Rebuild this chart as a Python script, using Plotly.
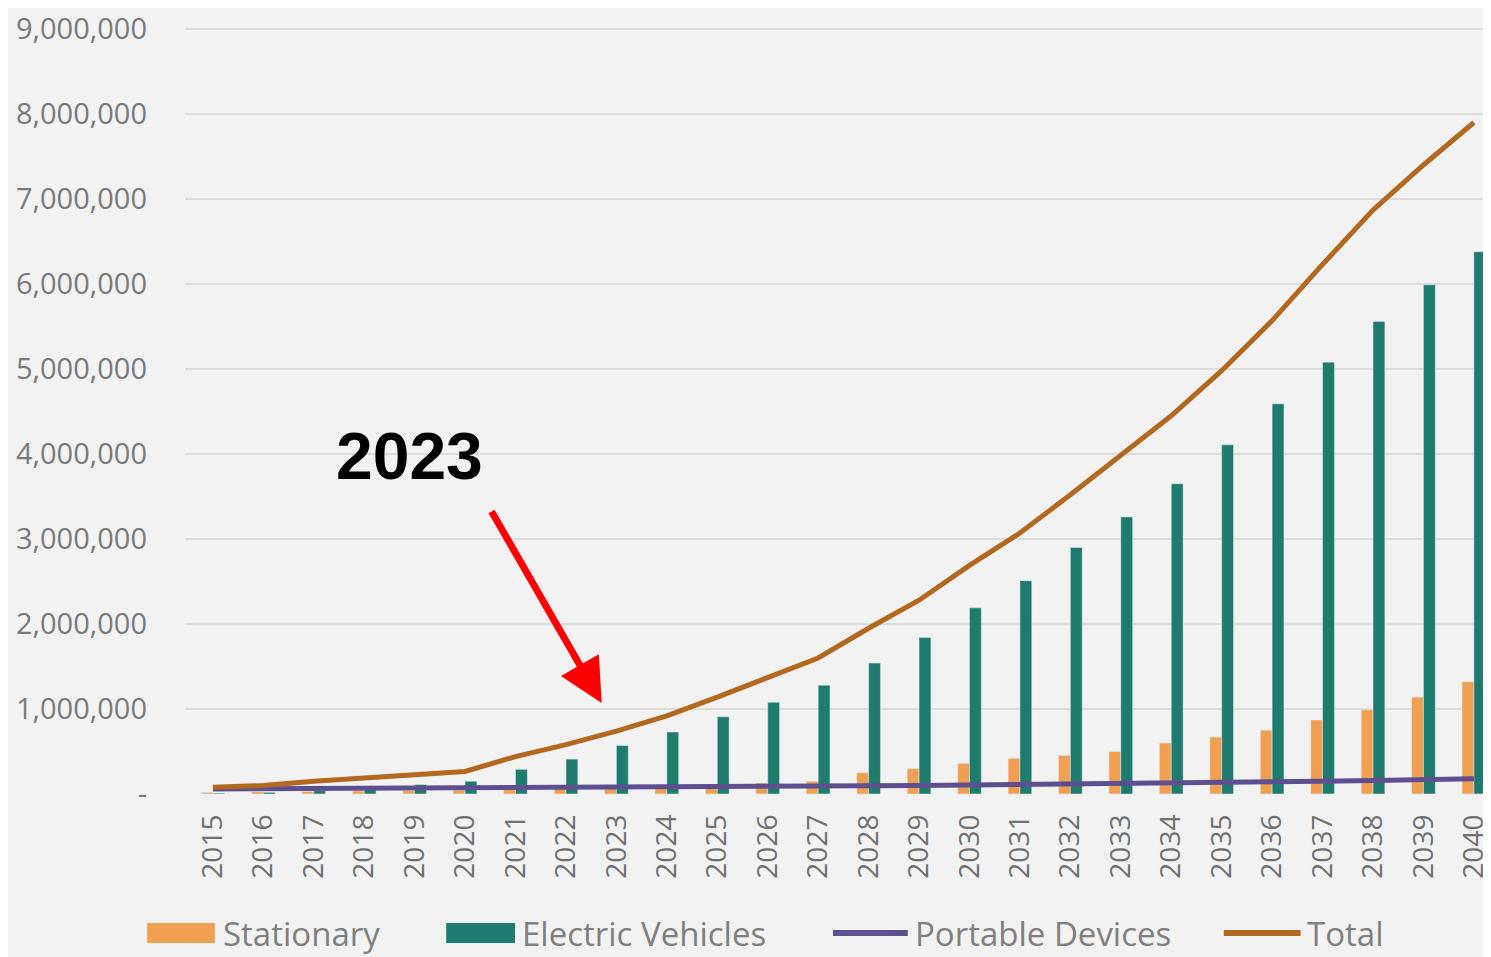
import plotly.graph_objects as go

years = [str(y) for y in range(2015, 2041)]

stationary = [20000, 25000, 30000, 35000, 40000, 45000, 55000, 65000, 80000, 95000,
              110000, 130000, 150000, 250000, 300000, 360000, 420000, 455000, 500000, 600000,
              670000, 750000, 870000, 990000, 1140000, 1320000]

electric_vehicles = [10000, 20000, 40000, 70000, 110000, 150000, 290000, 410000, 570000, 730000,
                     910000, 1080000, 1280000, 1540000, 1840000, 2190000, 2510000, 2900000, 3260000, 3650000,
                     4110000, 4590000, 5080000, 5560000, 5990000, 6380000]

portable_devices = [60000, 62000, 65000, 68000, 70000, 72000, 75000, 78000, 80000, 83000,
                    86000, 90000, 93000, 97000, 100000, 105000, 110000, 115000, 120000, 125000,
                    130000, 140000, 150000, 160000, 170000, 180000]

total = [80000, 100000, 150000, 190000, 225000, 265000, 440000, 580000, 740000, 920000,
         1140000, 1370000, 1600000, 1950000, 2280000, 2690000, 3070000, 3520000, 3980000, 4450000,
         4980000, 5570000, 6230000, 6870000, 7400000, 7900000]

y_ticks = [0, 1000000, 2000000, 3000000, 4000000, 5000000, 6000000, 7000000, 8000000, 9000000]
y_tick_text = ["-", "1,000,000", "2,000,000", "3,000,000", "4,000,000", "5,000,000",
               "6,000,000", "7,000,000", "8,000,000", "9,000,000"]

series_names = ["Stationary", "Electric Vehicles", "Portable Devices", "Total"]
series_colors = ["#F0A050", "#1E7B6E", "#5E5090", "#B2691F"]

# page offset (browser body margin)
OFF = 8
W, H = 1491 - OFF, 957 - OFF
L, R, T, B = 177, 0, 0, 163
PW, PH = W - L - R, H - T - B


def fx(x):
    return (x - OFF - L) / PW


def fy(y):
    return (H - B - (y - OFF)) / PH


fig = go.Figure()
fig.add_trace(go.Bar(x=years, y=stationary, name=series_names[0], marker_color=series_colors[0]))
fig.add_trace(go.Bar(x=years, y=electric_vehicles, name=series_names[1], marker_color=series_colors[1]))
fig.add_trace(go.Scatter(x=years, y=portable_devices, name=series_names[2], mode="lines",
                         line=dict(color=series_colors[2], width=5)))
fig.add_trace(go.Scatter(x=years, y=total, name=series_names[3], mode="lines",
                         line=dict(color=series_colors[3], width=5)))

# "2023" callout with red arrow
fig.add_annotation(xref="paper", yref="paper", x=fx(410), y=fy(456), xanchor="center", yanchor="middle",
                   text="<b>2023</b>", showarrow=False,
                   font=dict(family="Liberation Sans, Arial", size=66, color="#000000"))
fig.add_annotation(xref="paper", yref="paper", x=fx(603), y=fy(703), text="",
                   showarrow=True, ax=492 - 603, ay=510 - 703, arrowcolor="#FF0000",
                   arrowwidth=7, arrowhead=2, arrowsize=1.25, standoff=0)

# legend drawn manually to match the original spacing
legend_font = dict(family="Open Sans", size=33, color="#7F7F7F")
legend_items = [
    ("rect", 147, 215, 222),
    ("rect", 447, 516, 522),
    ("line", 835, 910, 916),
    ("line", 1227, 1304, 1309),
]
ly = 933
for (kind, s0, s1, tx), name, color in zip(legend_items, series_names, series_colors):
    if kind == "rect":
        fig.add_shape(type="rect", xref="paper", yref="paper", x0=fx(s0), x1=fx(s1),
                      y0=fy(ly + 10), y1=fy(ly - 10), fillcolor=color, line_width=0)
    else:
        fig.add_shape(type="line", xref="paper", yref="paper", x0=fx(s0), x1=fx(s1),
                      y0=fy(ly), y1=fy(ly), line=dict(color=color, width=6))
    fig.add_annotation(xref="paper", yref="paper", x=fx(tx), y=fy(ly), xanchor="left", yanchor="middle",
                       text=name, showarrow=False, font=legend_font, borderpad=0)

fig.update_layout(
    width=W, height=H,
    margin=dict(l=L, r=R, t=T, b=B, pad=0),
    paper_bgcolor="#F2F2F2", plot_bgcolor="#F2F2F2",
    barmode="group", bargap=0.53, bargroupgap=0,
    font=dict(family="Open Sans", color="#7F7F7F"),
    showlegend=False,
)
fig.update_xaxes(type="category", range=[-0.553, 25.26], showgrid=False, zeroline=False,
                 tickangle=-90, tickfont=dict(size=28, color="#707070"), ticks="",
                 ticklabelstandoff=14, showline=False)
fig.update_yaxes(range=[0, 9247000], tickvals=y_ticks, ticktext=y_tick_text,
                 showgrid=True, gridcolor="#DCDCDC", gridwidth=2, zeroline=False,
                 tickfont=dict(size=29, color="#7A7A7A"), ticks="", ticklabelstandoff=37,
                 showline=False)

fig.write_html("out.html")
